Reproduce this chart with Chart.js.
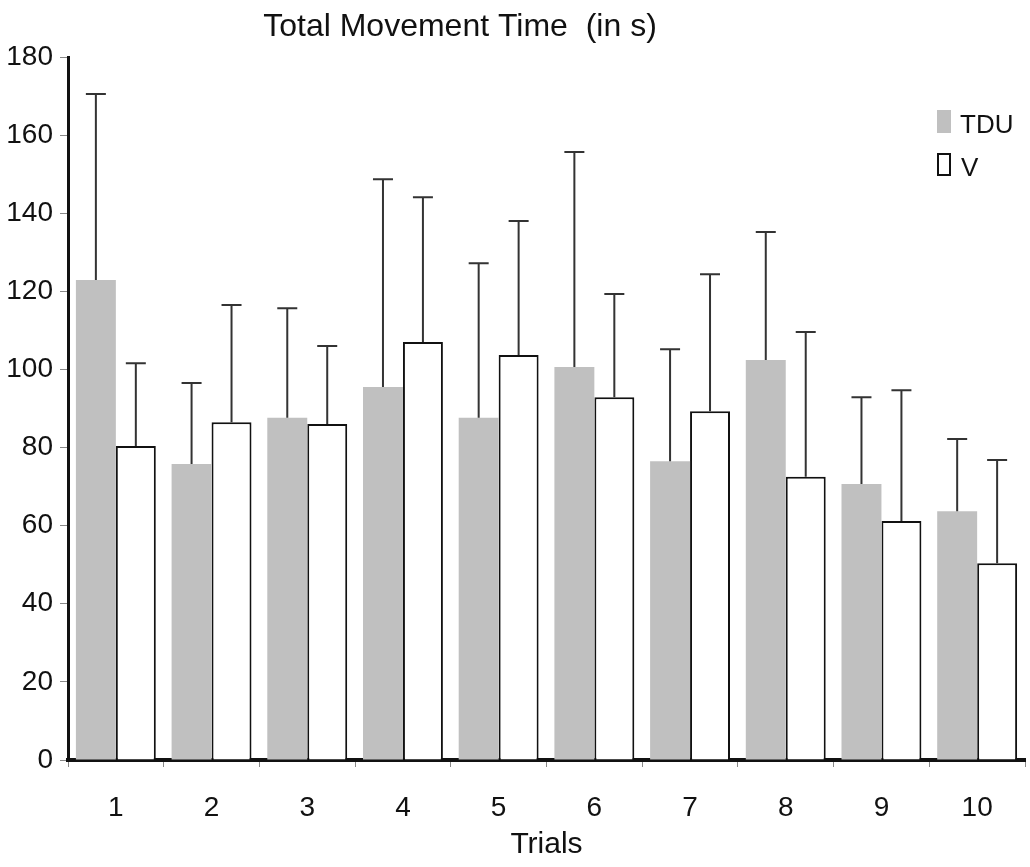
<!DOCTYPE html>
<html>
<head>
<meta charset="utf-8">
<script src="https://cdn.jsdelivr.net/npm/chart.js@4/dist/chart.umd.min.js"></script>
<style>
    html, body { margin: 0; padding: 0; background: #fff; }
    #wrap { width: 1030px; height: 867px; }
</style>
</head>
<body>
<div id="wrap"><canvas id="mtChart" width="1030" height="867"></canvas></div>
<script>
const trials = ["1", "2", "3", "4", "5", "6", "7", "8", "9", "10"];
const tduMeans = [122.9, 75.8, 87.6, 95.5, 87.6, 100.6, 76.5, 102.4, 70.7, 63.7];
const tduUpper = [170.5, 96.5, 115.7, 148.7, 127.2, 155.7, 105.2, 135.2, 92.9, 82.2];
const vMeans = [80.4, 86.5, 86.0, 107.0, 103.7, 92.9, 89.3, 72.5, 61.2, 50.4];
const vUpper = [101.6, 116.5, 106.0, 144.1, 138.0, 119.3, 124.4, 109.6, 94.7, 76.8];
const yTicks = [0, 20, 40, 60, 80, 100, 120, 140, 160, 180];

const fontFamily = "'Liberation Sans', Arial, sans-serif";

// upward-only error bars with caps
const errorBars = {
    id: "errorBars",
    afterDatasetsDraw(chart) {
        const ctx = chart.ctx;
        const y = chart.scales.y;
        const uppers = [tduUpper, vUpper];
        ctx.save();
        ctx.strokeStyle = "#333";
        ctx.lineWidth = 2;
        chart.data.datasets.forEach((ds, di) => {
            const meta = chart.getDatasetMeta(di);
            meta.data.forEach((bar, i) => {
                const yTop = y.getPixelForValue(uppers[di][i]);
                ctx.beginPath();
                ctx.moveTo(bar.x, bar.y);
                ctx.lineTo(bar.x, yTop);
                ctx.moveTo(bar.x - 10, yTop);
                ctx.lineTo(bar.x + 10, yTop);
                ctx.stroke();
            });
        });
        ctx.restore();
    }
};

// title and legend placed like the original figure
const decorations = {
    id: "decorations",
    afterDraw(chart) {
        const ctx = chart.ctx;
        const area = chart.chartArea;
        ctx.save();
        ctx.fillStyle = "#111";
        ctx.font = "32px " + fontFamily;
        ctx.textAlign = "center";
        ctx.textBaseline = "middle";
        ctx.fillText("Total Movement Time  (in s)", 460, 27);

        const lx = area.right - 88;
        ctx.textAlign = "left";
        ctx.textBaseline = "alphabetic";
        ctx.font = "26px " + fontFamily;
        ctx.fillStyle = "#c0c0c0";
        ctx.fillRect(lx, 110, 14, 23);
        ctx.fillStyle = "#111";
        ctx.fillText("TDU", lx + 23, 133);
        ctx.strokeStyle = "#111";
        ctx.lineWidth = 2;
        ctx.strokeRect(lx + 1, 154, 12, 21);
        ctx.fillText("V", lx + 24, 176);
        ctx.restore();
    }
};

new Chart(document.getElementById("mtChart").getContext("2d"), {
    type: "bar",
    data: {
        labels: trials,
        datasets: [
            {
                label: "TDU",
                data: tduMeans,
                backgroundColor: "#c0c0c0",
                borderWidth: 0
            },
            {
                label: "V",
                data: vMeans,
                backgroundColor: "#ffffff",
                borderColor: "#111",
                borderWidth: 2
            }
        ]
    },
    options: {
        responsive: false,
        animation: false,
        layout: { padding: { top: 57, right: 5, bottom: 0, left: 0 } },
        datasets: {
            bar: { barPercentage: 1.0, categoryPercentage: 0.835 }
        },
        plugins: {
            legend: { display: false },
            title: { display: false },
            tooltip: { enabled: false }
        },
        scales: {
            x: {
                afterFit: (s) => { s.height = 107; },
                grid: {
                    offset: true,
                    drawOnChartArea: false,
                    tickLength: 7,
                    color: "#888"
                },
                border: { color: "#111", width: 4 },
                ticks: {
                    color: "#111",
                    padding: 24,
                    font: { family: fontFamily, size: 28 }
                },
                title: {
                    display: true,
                    text: "Trials",
                    color: "#111",
                    padding: { top: 0, bottom: 4 },
                    font: { family: fontFamily, size: 30 }
                }
            },
            y: {
                min: 0,
                max: 180,
                afterFit: (s) => { s.width = 68; },
                afterBuildTicks: (s) => { s.ticks = yTicks.map(v => ({ value: v })); },
                grid: {
                    drawOnChartArea: false,
                    tickLength: 8,
                    color: "#888"
                },
                border: { color: "#111", width: 3 },
                ticks: {
                    color: "#111",
                    padding: 7,
                    font: { family: fontFamily, size: 28 }
                }
            }
        }
    },
    plugins: [errorBars, decorations]
});
</script>
</body>
</html>
